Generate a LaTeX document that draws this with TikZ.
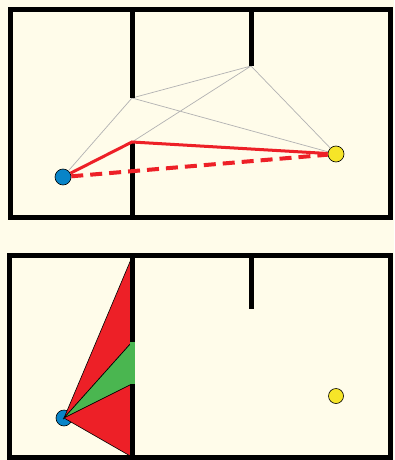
\documentclass[tikz,border=0pt]{standalone}
\usepackage{xcolor}
\usetikzlibrary{positioning,calc}
\definecolor{paper}{RGB}{255,252,234}
\definecolor{pinblue}{RGB}{8,132,200}
\definecolor{pinyellow}{RGB}{246,229,40}
\definecolor{routered}{RGB}{237,32,39}
\definecolor{seegreen}{RGB}{74,182,80}

\begin{document}
\begin{tikzpicture}[x=1pt,y=-1pt,
  wall/.style={line width=5pt,line join=miter},
  spot/.style={draw,circle,inner sep=0pt,minimum size=16pt,line width=0.6pt},
  ray/.style={black!30,line width=0.7pt},
  route/.style={routered,line width=3pt},
  cone/.style={draw=black,line width=0.6pt}]
\fill[paper] (0,0) rectangle (394,460);
\useasboundingbox (0,0) rectangle (394,460);
% upper room: visibility graph
\coordinate (t1) at (132,98);
\coordinate (t2) at (251,66);
\coordinate (t3) at (132,142);
\node[spot,fill=pinblue] (start) at (63,177) {};
\node[spot,fill=pinyellow] (goal) at (336,154) {};
\draw[ray] (start)--(t1) (t1)--(t2) (t1)--(goal) (t3)--(t2) (t2)--(goal);
\draw[wall] (10,10) rectangle (390,217);
\draw[wall] (132,10)--(t1) (t3)--(132,217) (251,10)--(t2);
\draw[route] (start)--(t3)--(goal);
\draw[route,line width=4pt,dash pattern=on 12pt off 7pt] (start)--(goal);
% lower room: view cone
\node[spot,fill=pinblue] (start2) at (64,418) {};
\node[spot,fill=pinyellow,minimum size=15pt] (goal2) at (336,396) {};
\coordinate (c1) at (132,257);
\coordinate (c2) at (132,342);
\coordinate (c3) at (132,384);
\coordinate (c4) at (132,457);
\filldraw[cone,fill=routered] (start2.center)--(c1)--(c2)--cycle;
\filldraw[cone,fill=seegreen] (start2.center)--(c2)--(c3)--cycle;
\filldraw[cone,fill=routered] (start2.center)--(c3)--(c4)--cycle;
\draw[wall] (9,255) rectangle (390,457);
\draw[wall] (c1)--(c2) (c3)--(c4) (251,255)--(251,309);
\fill[seegreen] ($(c2)+(-2.5,0)$) rectangle ($(c3)+(2.5,0)$);
\end{tikzpicture}
\end{document}
